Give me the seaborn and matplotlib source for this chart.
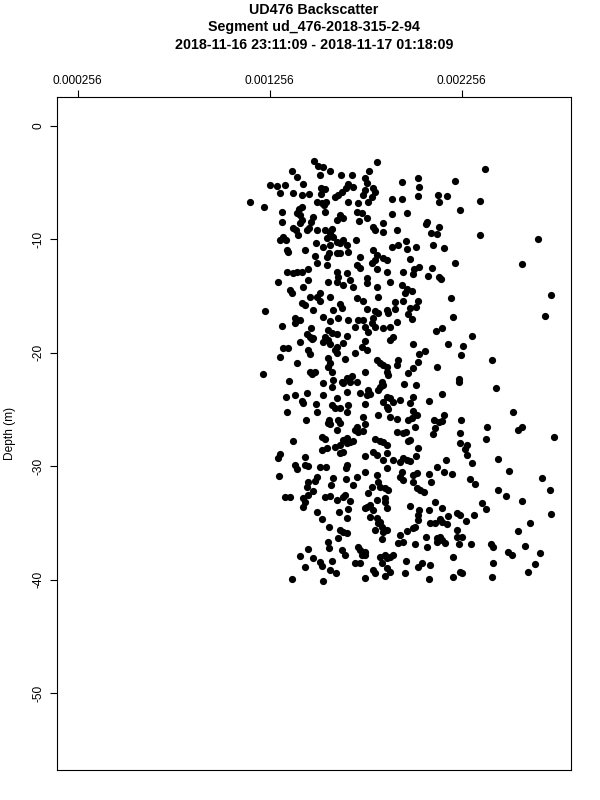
import numpy as np
import pandas as pd
import matplotlib
matplotlib.use("Agg")
import matplotlib.pyplot as plt
import seaborn as sns

# ---------------- data (backscatter in units of 1e-3, depth in m) ----------------
backscatter_milli = [
    # upper part (-3 .. -15 m), left
    1.488, 1.814, 1.510, 1.533, 1.371, 1.571, 1.776, 1.519, 1.626, 1.684,
    1.401, 1.753, 1.944, 1.762, 1.428, 1.666, 1.258, 1.336, 1.293, 1.692,
    1.522, 1.654, 1.796, 1.545, 1.753, 1.632, 1.805, 1.310, 1.380, 1.463,
    1.524, 1.423, 1.614, 1.744, 1.597, 1.788, 1.892, 1.948, 1.550, 1.666,
    1.770, 1.154, 1.505, 1.718, 1.527, 1.540, 1.227, 1.423, 1.411, 1.319,
    1.545, 1.710, 1.397, 1.736, 1.892, 1.623, 1.415, 1.481, 1.640, 1.762,
    1.606, 1.423, 1.724, 1.319, 1.470, 1.415, 1.849, 1.796, 1.380, 1.463,
    1.579, 1.394, 1.449, 1.501, 1.545, 1.805, 1.918, 1.849, 1.571, 1.406,
    1.588, 1.328, 1.553, 1.310, 1.342, 1.640, 1.706, 1.606, 1.498, 1.623,
    1.571, 1.658, 1.927, 1.536, 1.892, 1.345, 1.441, 1.796, 1.354, 1.666,
    1.567, 1.606, 1.623, 1.814, 1.493, 1.553, 1.727, 1.849, 1.805, 1.866,
    1.501, 1.788, 1.553, 1.710, 1.727, 1.458, 1.814, 1.345, 1.397, 1.423,
    1.606, 1.866, 1.953, 1.658, 1.380, 1.614, 1.762, 1.458, 1.675, 1.302,
    1.562, 1.606, 1.883, 1.762, 1.640, 1.944, 1.432, 1.692, 1.814, 1.362,
    1.371, 1.519, 1.962, 1.467, 1.501, 1.571, 1.822, 1.710,
    # upper part, right
    2.379, 2.028, 2.222, 2.035, 2.028, 2.132, 2.179, 2.141, 2.353, 2.248,
    1.971, 2.078, 2.071, 2.141, 2.096, 2.127, 2.353, 1.967, 2.656, 1.971,
    2.019, 2.106, 2.165, 1.988, 2.222, 2.573, 2.037, 2.009, 2.101, 2.005,
    2.082, 2.136, 2.150, 1.974, 1.997, 2.722,
    # middle part (-15 .. -28 m), left
    1.519, 1.744, 1.909, 1.423, 1.441, 1.623, 1.632, 1.588, 1.484, 1.232,
    1.762, 1.805, 1.822, 1.866, 1.875, 1.909, 1.388, 1.415, 1.388, 1.533,
    1.571, 1.614, 1.666, 1.718, 1.744, 1.796, 1.788, 1.918, 1.319, 1.472,
    1.701, 1.753, 1.805, 1.845, 1.883, 1.562, 1.579, 1.545, 1.562, 1.606,
    1.658, 1.770, 1.449, 1.467, 1.484, 1.475, 1.901, 1.883, 1.415, 1.536,
    1.571, 1.753, 1.640, 1.606, 1.597, 1.328, 1.354, 1.736, 1.762, 1.458,
    1.467, 1.310, 1.701, 1.606, 1.562, 1.649, 1.814, 1.831, 1.849, 1.866,
    1.927, 1.918, 1.397, 1.571, 1.562, 1.579, 1.467, 1.475, 1.493, 1.753,
    1.866, 1.875, 1.220, 1.684, 1.658, 1.632, 1.675, 1.710, 1.640, 1.359,
    1.533, 1.588, 1.579, 1.831, 1.822, 1.849, 1.840, 1.770, 1.779, 1.762,
    1.342, 1.388, 1.453, 1.536, 1.606, 1.661, 1.727, 1.866, 1.883, 1.849,
    1.866, 1.901, 1.935, 1.423, 1.432, 1.498, 1.579, 1.597, 1.623, 1.666,
    1.658, 1.753, 1.875, 1.349, 1.505, 1.567, 1.614, 1.623, 1.744, 1.822,
    1.883, 1.918, 1.446, 1.562, 1.571, 1.753, 1.710, 1.701, 1.718, 1.744,
    1.606, 1.918, 1.953, 1.376, 1.527, 1.545, 1.640, 1.658, 1.675, 1.692,
    1.805, 1.831, 1.849,
    # middle part, right
    1.950, 2.031, 2.200, 1.985, 2.019, 1.979, 1.997, 2.209, 2.691, 2.124,
    2.156, 2.309, 2.002, 2.188, 2.261, 2.066, 2.037, 2.254, 2.413, 2.031,
    2.130, 2.002, 1.979, 2.243, 2.245, 1.957, 2.019, 2.436, 2.153, 2.005,
    1.988, 2.084, 2.002, 2.026, 1.979, 1.997, 2.110, 2.136, 2.153, 2.165,
    2.254, 2.526, 2.387, 2.552, 2.570, 2.012, 2.118, 1.967, 2.106, 2.248,
    2.738, 2.382, 1.988, 1.979,
    # lower part (-28 .. -40 m), left
    1.527, 1.553, 1.597, 1.623, 1.658, 1.866, 1.623, 1.640, 1.310, 1.302,
    1.441, 1.753, 1.796, 1.814, 1.866, 1.849, 1.901, 1.935, 1.953, 1.388,
    1.397, 1.441, 1.458, 1.519, 1.550, 1.658, 1.654, 1.753, 1.814, 1.866,
    1.944, 1.935, 1.307, 1.501, 1.493, 1.458, 1.449, 1.588, 1.654, 1.710,
    1.692, 1.574, 1.788, 1.822, 1.831, 1.857, 1.875, 1.953, 1.336, 1.362,
    1.432, 1.441, 1.432, 1.458, 1.484, 1.545, 1.571, 1.606, 1.640, 1.649,
    1.675, 1.770, 1.814, 1.857, 1.857, 1.762, 1.753, 1.779, 1.796, 1.866,
    1.619, 1.666, 1.505, 1.527, 1.658, 1.779, 1.814, 1.822, 1.831, 1.840,
    1.805, 1.849, 1.866, 1.567, 1.623, 1.640, 1.614, 1.658, 1.840, 1.935,
    1.927, 1.953, 1.562, 1.567, 1.458, 1.415, 1.632, 1.649, 1.718, 1.727,
    1.736, 1.753, 1.753, 1.484, 1.519, 1.527, 1.579, 1.701, 1.727, 1.831,
    1.840, 1.866, 1.883, 1.901, 1.857, 1.441, 1.571, 1.602, 1.796, 1.805,
    1.866, 1.883, 1.857, 1.371, 1.536, 1.753,
    # lower part, right
    2.248, 2.283, 2.275, 2.283, 2.031, 2.019, 1.971, 1.988, 2.176, 2.445,
    2.309, 2.127, 2.165, 2.205, 2.084, 2.023, 2.005, 2.005, 2.096, 2.301,
    2.327, 2.505, 2.677, 2.717, 2.445, 2.488, 2.570, 2.023, 2.040, 2.058,
    2.361, 2.384, 1.985, 2.118, 2.156, 2.084, 2.037, 2.031, 2.031, 2.231,
    2.248, 2.188, 2.144, 2.153, 2.179, 2.321, 2.280, 2.092, 2.118, 2.721,
    2.610, 2.552, 2.005, 1.971, 2.014, 2.231, 2.071, 2.127, 2.144, 2.153,
    2.170, 2.127, 2.231, 2.257, 2.014, 2.075, 2.245, 2.304, 2.408, 2.422,
    2.587, 2.500, 2.518, 2.665, 2.210, 1.967, 2.049, 2.031, 2.092, 2.419,
    2.636, 1.962, 2.084, 2.210, 2.248, 2.257, 2.413, 2.601,
]

depth_m = [
    # upper part, left
    -3.06, -3.15, -3.53, -3.65, -3.94, -3.94, -3.94, -4.32, -4.32, -4.32,
    -4.47, -4.62, -4.91, -5.06, -5.15, -5.15, -5.21, -5.21, -5.30, -5.41,
    -5.50, -5.50, -5.50, -5.59, -5.65, -5.80, -5.80, -5.88, -5.88, -6.03,
    -6.03, -6.09, -6.09, -6.09, -6.24, -6.24, -6.47, -6.47, -6.68, -6.68,
    -6.68, -6.74, -6.74, -6.82, -6.82, -6.97, -7.18, -7.12, -7.32, -7.56,
    -7.56, -7.56, -7.71, -7.71, -7.76, -7.85, -7.85, -8.00, -8.15, -8.15,
    -8.29, -8.29, -8.35, -8.44, -8.44, -8.53, -8.59, -8.88, -9.03, -9.03,
    -9.12, -9.18, -9.18, -9.18, -9.18, -9.18, -9.18, -9.32, -9.47, -9.62,
    -9.76, -9.82, -9.91, -10.06, -10.06, -10.06, -10.06, -10.20, -10.29, -10.35,
    -10.50, -10.50, -10.50, -10.65, -10.65, -10.94, -10.94, -10.94, -11.09, -11.09,
    -11.23, -11.23, -11.23, -11.38, -11.47, -11.59, -11.59, -11.67, -11.82, -11.82,
    -12.12, -12.12, -12.26, -12.26, -12.56, -12.64, -12.64, -12.85, -12.85, -12.85,
    -12.85, -12.85, -12.85, -13.00, -13.00, -13.29, -13.44, -13.58, -13.58, -13.73,
    -13.73, -13.73, -13.73, -13.88, -14.02, -14.02, -14.17, -14.17, -14.17, -14.47,
    -14.76, -14.76, -14.76, -15.05, -15.05, -15.05, -15.05, -15.20,
    # upper part, right
    -3.83, -4.56, -4.85, -5.35, -6.15, -6.09, -6.15, -6.68, -6.62, -7.41,
    -7.71, -8.44, -8.65, -8.94, -9.47, -9.56, -9.62, -10.12, -10.00, -10.88,
    -10.68, -10.50, -10.74, -11.77, -12.06, -12.18, -12.47, -12.65, -12.56, -13.06,
    -13.21, -13.35, -13.53, -14.41, -14.56, -14.91,
    # middle part, left
    -15.43, -15.43, -15.55, -15.64, -15.78, -15.72, -16.08, -16.22, -16.22, -16.31,
    -16.14, -16.31, -16.52, -16.22, -16.52, -16.14, -16.90, -17.11, -17.40, -16.81,
    -17.19, -16.90, -17.11, -17.11, -17.11, -16.90, -17.40, -17.31, -17.61, -17.78,
    -17.75, -17.69, -17.69, -17.78, -17.69, -17.99, -18.28, -18.58, -18.87, -18.37,
    -18.49, -18.14, -18.37, -18.58, -18.66, -18.81, -18.58, -18.87, -19.02, -19.02,
    -19.25, -18.96, -19.16, -19.46, -19.75, -19.61, -19.61, -19.46, -19.75, -19.75,
    -20.14, -20.34, -20.05, -20.05, -20.43, -20.55, -20.64, -20.93, -21.08, -21.22,
    -20.64, -21.08, -20.93, -20.93, -21.22, -21.66, -21.66, -21.90, -21.72, -21.66,
    -21.66, -21.96, -21.90, -22.02, -22.25, -22.55, -22.61, -22.61, -22.69, -22.49,
    -22.69, -22.40, -22.99, -22.99, -23.28, -22.84, -22.61, -23.28, -23.66, -23.72,
    -23.87, -23.72, -23.58, -23.72, -23.96, -23.43, -23.58, -23.87, -24.02, -24.31,
    -24.75, -24.31, -24.16, -24.25, -24.46, -24.55, -24.61, -24.90, -24.90, -24.61,
    -25.25, -24.55, -24.99, -25.19, -25.19, -25.93, -25.93, -26.22, -25.64, -25.49,
    -25.64, -25.84, -25.93, -26.22, -26.31, -26.31, -26.52, -26.81, -26.96, -26.90,
    -26.81, -26.96, -27.11, -27.75, -27.40, -27.61, -27.69, -27.55, -27.84, -27.78,
    -27.61, -27.75, -27.84,
    # middle part, right
    -15.43, -15.43, -15.19, -16.02, -15.93, -16.61, -17.02, -16.81, -16.72, -18.08,
    -17.78, -18.49, -19.22, -19.25, -19.37, -19.84, -20.11, -20.19, -20.64, -20.78,
    -21.22, -21.37, -21.81, -22.31, -22.61, -22.72, -22.84, -23.08, -23.64, -23.87,
    -24.46, -24.25, -25.14, -25.49, -25.93, -25.78, -25.93, -26.08, -26.02, -25.49,
    -25.93, -25.25, -26.52, -26.81, -26.52, -26.52, -26.61, -26.96, -27.16, -27.11,
    -27.40, -27.61, -27.69, -27.75,
    # lower part, left
    -28.57, -28.43, -28.28, -28.13, -27.98, -28.13, -28.87, -28.72, -28.93, -29.31,
    -29.16, -29.10, -28.72, -29.01, -28.87, -29.45, -29.45, -29.60, -29.31, -29.90,
    -30.28, -29.90, -29.98, -30.04, -30.10, -29.90, -30.19, -30.48, -30.78, -30.19,
    -30.48, -30.93, -30.84, -30.93, -31.31, -31.37, -31.81, -31.07, -31.13, -30.93,
    -31.66, -31.66, -31.81, -31.37, -31.81, -31.95, -32.10, -31.22, -32.69, -32.69,
    -32.84, -33.13, -33.57, -32.54, -32.16, -32.69, -32.63, -32.98, -32.69, -32.54,
    -33.07, -32.40, -32.98, -32.84, -33.13, -33.57, -33.72, -33.42, -33.87, -33.72,
    -34.01, -33.78, -34.01, -34.66, -34.54, -34.45, -34.60, -35.04, -34.90, -35.34,
    -35.63, -35.78, -35.63, -35.34, -35.63, -35.78, -36.37, -35.93, -36.45, -36.07,
    -36.81, -36.66, -36.66, -37.25, -37.34, -37.93, -37.40, -37.84, -37.10, -37.40,
    -37.84, -37.84, -37.54, -38.13, -38.43, -38.81, -38.34, -38.57, -38.51, -37.98,
    -38.57, -38.13, -37.98, -37.84, -37.84, -38.87, -39.16, -39.45, -39.16, -39.45,
    -39.01, -39.31, -39.69, -39.98, -40.10, -39.90,
    # lower part, right
    -27.98, -28.13, -28.51, -29.01, -28.43, -29.10, -29.45, -29.51, -29.45, -29.37,
    -29.69, -30.10, -30.48, -30.72, -30.72, -30.63, -30.78, -31.37, -31.37, -31.13,
    -31.60, -30.40, -31.07, -32.10, -32.10, -32.60, -33.07, -31.95, -32.10, -32.25,
    -33.28, -33.78, -33.51, -33.13, -33.66, -33.87, -33.87, -34.31, -34.75, -34.16,
    -34.31, -34.40, -34.69, -34.90, -35.10, -34.31, -34.81, -35.04, -35.04, -34.25,
    -35.04, -35.72, -35.48, -35.69, -35.40, -35.63, -36.28, -36.37, -36.22, -36.51,
    -36.81, -36.66, -36.22, -36.22, -36.90, -37.10, -36.90, -36.90, -36.90, -37.16,
    -37.01, -37.54, -37.84, -37.69, -38.04, -38.34, -38.51, -38.87, -38.72, -38.51,
    -38.63, -39.45, -39.98, -39.75, -39.31, -39.40, -39.81, -39.31,
]

x_tick_values = [0.000256, 0.001256, 0.002256]
x_tick_labels = ["0.000256", "0.001256", "0.002256"]
y_tick_values = [0, -10, -20, -30, -40, -50]
y_tick_labels = ["0", "-10", "-20", "-30", "-40", "-50"]

title_lines = [
    "UD476 Backscatter",
    "Segment ud_476-2018-315-2-94",
    "2018-11-16 23:11:09 - 2018-11-17 01:18:09",
]
y_label = "Depth (m)"

n = min(len(backscatter_milli), len(depth_m))
df = pd.DataFrame({
    "backscatter": np.array(backscatter_milli[:n]) * 1e-3,
    "depth": np.array(depth_m[:n]),
})

# ---------------- style ----------------
sns.set_style("ticks")
plt.rcParams["font.family"] = ["Liberation Sans", "DejaVu Sans"]
plt.rcParams["axes.edgecolor"] = "black"
plt.rcParams["axes.linewidth"] = 0.8

fig = plt.figure(figsize=(6, 8), dpi=100)
ax = fig.add_axes([57 / 600, 30 / 800, 514 / 600, 673 / 800])

sns.scatterplot(data=df, x="backscatter", y="depth", ax=ax,
                color="black", s=27, linewidth=0, edgecolor=None, legend=False)

ax.set_xlim(0.1492e-3, 2.826e-3)
ax.set_ylim(-56.79, 2.557)

ax.xaxis.tick_top()
ax.set_xticks(x_tick_values)
ax.set_xticklabels(x_tick_labels, fontsize=8.6)
ax.set_yticks(y_tick_values)
ax.set_yticklabels(y_tick_labels, fontsize=8.6, rotation=90, va="center")
ax.tick_params(axis="x", direction="out", length=5, width=0.8, pad=2.5,
               top=True, bottom=False, labeltop=True, labelbottom=False, colors="black")
ax.tick_params(axis="y", direction="out", length=5, width=0.8, pad=4, colors="black")
ax.set_xlabel("")
ax.set_ylabel("")
for sp in ax.spines.values():
    sp.set_visible(True)
    sp.set_color("black")
    sp.set_linewidth(0.8)

fig.text(10 / 600, 1 - 433 / 800, y_label, rotation=90, ha="center", va="center",
         fontsize=8.6, color="black")

for txt, ypix in zip(title_lines, [10, 27, 45]):
    fig.text(0.5 * (57 + 571) / 600, 1 - ypix / 800, txt, ha="center", va="center",
             fontsize=10.3, fontweight="bold", color="black")

fig.savefig("out.png", dpi=100)
